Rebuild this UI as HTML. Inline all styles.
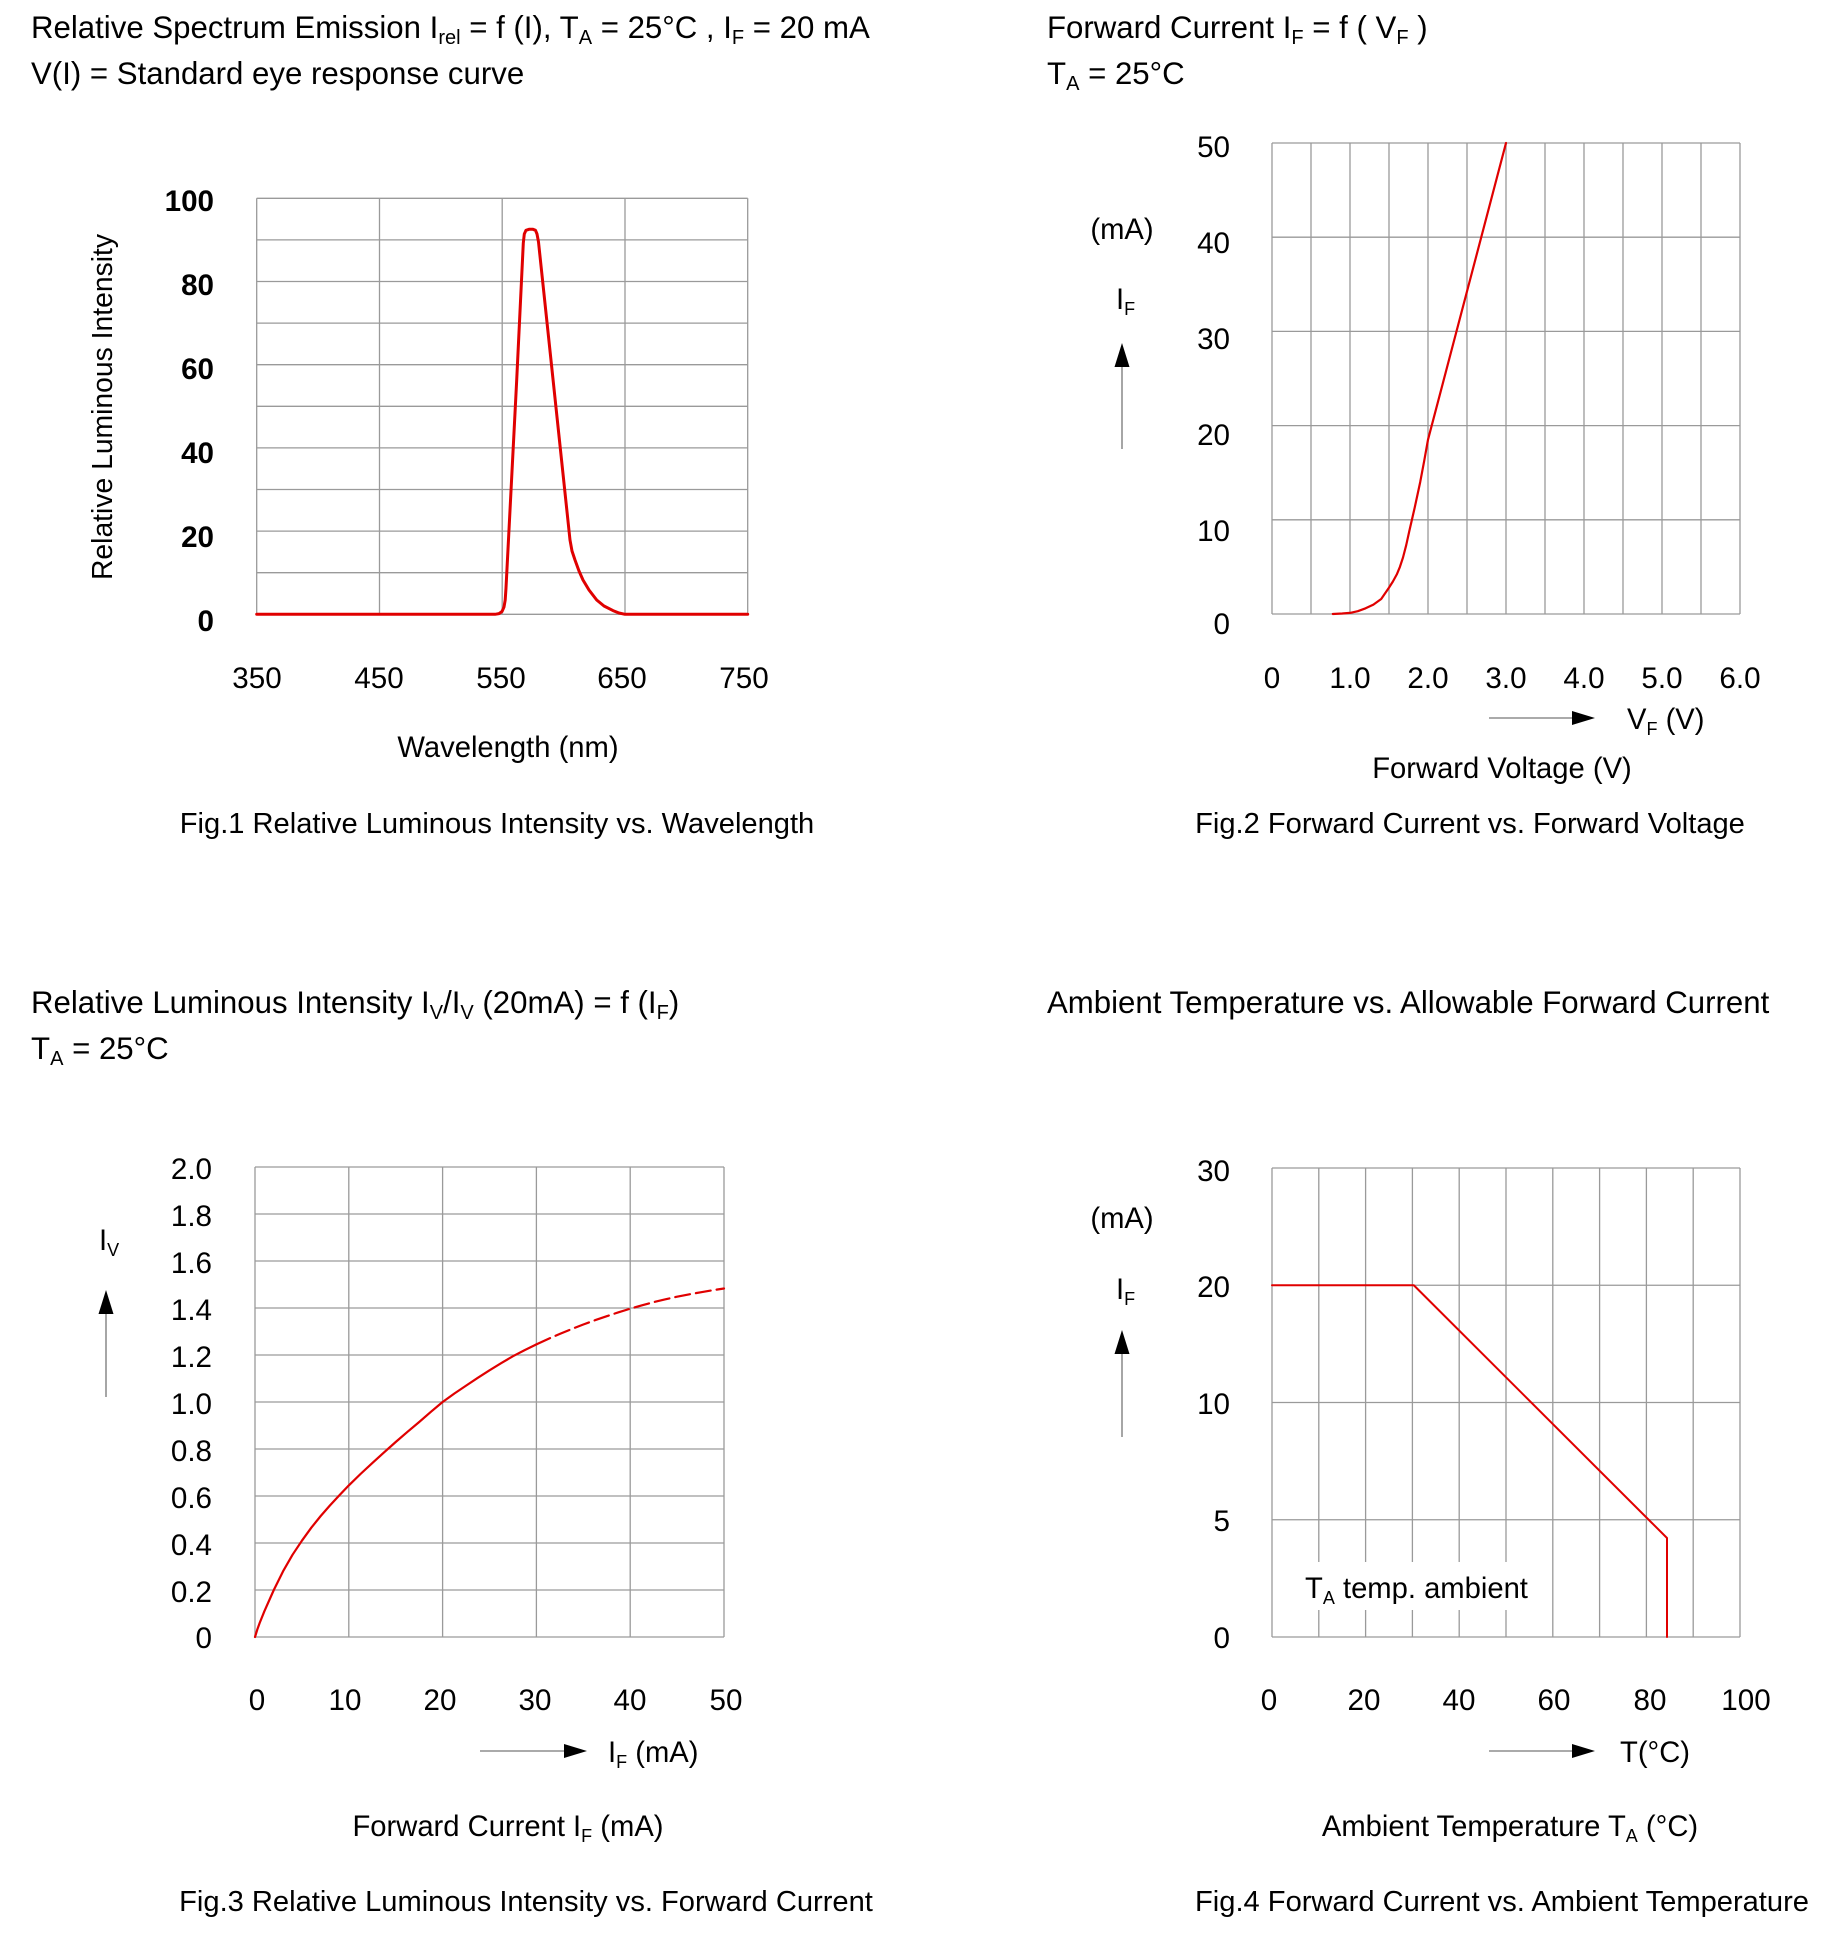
<!DOCTYPE html>
<html><head><meta charset="utf-8"><style>
html,body{margin:0;padding:0;background:#fff;}
svg{display:block;}
text{font-family:"Liberation Sans",Arial,sans-serif;fill:#000;}
.g{stroke:#9a9a9a;stroke-width:1.3;fill:none;}
.c{stroke:#e00000;fill:none;stroke-linejoin:round;stroke-linecap:round;}
.t{font-size:31.2px;}
.k{font-size:29.6px;}
.a{font-size:29.2px;}
.cap{font-size:29.1px;}
.ar{stroke:#777;stroke-width:1.3;}
</style></head><body>
<svg width="1845" height="1950" viewBox="0 0 1845 1950" xmlns="http://www.w3.org/2000/svg">
<rect width="1845" height="1950" fill="#fff"/>

<!-- ========== FIG 1 ========== -->
<text class="t" x="31" y="38">Relative Spectrum Emission I<tspan font-size="20" dy="6">rel</tspan><tspan dy="-6"> = f (I), T</tspan><tspan font-size="20" dy="6">A</tspan><tspan dy="-6"> = 25°C , I</tspan><tspan font-size="20" dy="6">F</tspan><tspan dy="-6"> = 20 mA</tspan></text>
<text class="t" x="31" y="84">V(I) = Standard eye response curve</text>

<path class="g" d="M256.7,198.3V614.3M379.5,198.3V614.3M502.2,198.3V614.3M625,198.3V614.3M747.7,198.3V614.3
M256.7,198.3H747.7M256.7,239.9H747.7M256.7,281.5H747.7M256.7,323.1H747.7M256.7,364.7H747.7M256.7,406.3H747.7M256.7,447.9H747.7M256.7,489.5H747.7M256.7,531.1H747.7M256.7,572.7H747.7M256.7,614.3H747.7"/>

<g class="k" text-anchor="end" font-weight="bold">
<text x="214" y="211">100</text>
<text x="214" y="295">80</text>
<text x="214" y="379">60</text>
<text x="214" y="463">40</text>
<text x="214" y="547">20</text>
<text x="214" y="631">0</text>
</g>
<g class="k" text-anchor="middle">
<text x="257" y="688">350</text>
<text x="379" y="688">450</text>
<text x="501" y="688">550</text>
<text x="622" y="688">650</text>
<text x="744" y="688">750</text>
</g>
<text class="a" x="508" y="757" text-anchor="middle">Wavelength (nm)</text>
<text transform="translate(112,407) rotate(-90)" text-anchor="middle" font-size="28.3">Relative Luminous Intensity</text>
<text class="cap" x="497" y="833" text-anchor="middle">Fig.1 Relative Luminous Intensity vs. Wavelength</text>

<polyline class="c" stroke-width="3" points="256.7,614.3 495,614.3 499,613.6 502,611.5 504,607 505.2,600 506,588 516.7,380 523.3,243 524.3,234 526,230.3 529,229.3 533,229.3 535.5,230.3 537,234 538.5,242 570,540 572,551 575,560 579,571 583,580 589,590 596.7,600 604,606 613,610.6 619,613 625,614.3 747.7,614.3"/>

<!-- ========== FIG 2 ========== -->
<text class="t" x="1047" y="38">Forward Current I<tspan font-size="20" dy="6">F</tspan><tspan dy="-6"> = f ( V</tspan><tspan font-size="20" dy="6">F</tspan><tspan dy="-6"> )</tspan></text>
<text class="t" x="1047" y="84">T<tspan font-size="20" dy="6">A</tspan><tspan dy="-6"> = 25°C</tspan></text>

<path class="g" d="M1272,143V614M1311,143V614M1350,143V614M1389,143V614M1428,143V614M1467,143V614M1506,143V614M1545,143V614M1584,143V614M1623,143V614M1662,143V614M1701,143V614M1740,143V614
M1272,143H1740M1272,237.2H1740M1272,331.4H1740M1272,425.6H1740M1272,519.8H1740M1272,614H1740"/>

<g class="k" text-anchor="end">
<text x="1230" y="157">50</text>
<text x="1230" y="253">40</text>
<text x="1230" y="349">30</text>
<text x="1230" y="445">20</text>
<text x="1230" y="541">10</text>
<text x="1230" y="634">0</text>
</g>
<g class="k" text-anchor="middle">
<text x="1272" y="688">0</text>
<text x="1350" y="688">1.0</text>
<text x="1428" y="688">2.0</text>
<text x="1506" y="688">3.0</text>
<text x="1584" y="688">4.0</text>
<text x="1662" y="688">5.0</text>
<text x="1740" y="688">6.0</text>
</g>
<text class="a" x="1122" y="239" text-anchor="middle">(mA)</text>
<text class="a" x="1116" y="309">I<tspan font-size="18" dy="6">F</tspan></text>
<line class="ar" x1="1122" y1="364" x2="1122" y2="449"/>
<polygon points="1122,343 1114.5,367 1129.5,367" fill="#000"/>

<line class="ar" x1="1489" y1="718" x2="1576" y2="718"/>
<polygon points="1595,718 1572,711 1572,725" fill="#000"/>
<text class="a" x="1627" y="729">V<tspan font-size="18" dy="6">F</tspan><tspan dy="-6"> (V)</tspan></text>
<text class="a" x="1502" y="778" text-anchor="middle">Forward Voltage (V)</text>
<text class="cap" x="1470" y="833" text-anchor="middle">Fig.2 Forward Current vs. Forward Voltage</text>

<polyline class="c" stroke-width="2.2" points="1332.8,614 1342.2,613.5 1350,612.9 1357.8,611.2 1365.6,608.3 1373.4,604.6 1381.2,599 1389,587.6 1392.9,581.5 1396.8,574.4 1399.9,566.9 1403,557.5 1406.2,545.2 1409.3,531.1 1414.7,507.6 1420.2,482.1 1424.1,461.4 1428,439.7 1467,291.4 1506,143"/>

<!-- ========== FIG 3 ========== -->
<text class="t" x="31" y="1013">Relative Luminous Intensity I<tspan font-size="20" dy="6">V</tspan><tspan dy="-6">/I</tspan><tspan font-size="20" dy="6">V</tspan><tspan dy="-6"> (20mA) = f (I</tspan><tspan font-size="20" dy="6">F</tspan><tspan dy="-6">)</tspan></text>
<text class="t" x="31" y="1059">T<tspan font-size="20" dy="6">A</tspan><tspan dy="-6"> = 25°C</tspan></text>

<path class="g" d="M255,1167V1637M348.8,1167V1637M442.6,1167V1637M536.4,1167V1637M630.2,1167V1637M724,1167V1637
M255,1167H724M255,1214H724M255,1261H724M255,1308H724M255,1355H724M255,1402H724M255,1449H724M255,1496H724M255,1543H724M255,1590H724M255,1637H724"/>

<g class="k" text-anchor="end">
<text x="212" y="1179">2.0</text>
<text x="212" y="1226">1.8</text>
<text x="212" y="1273">1.6</text>
<text x="212" y="1320">1.4</text>
<text x="212" y="1367">1.2</text>
<text x="212" y="1414">1.0</text>
<text x="212" y="1461">0.8</text>
<text x="212" y="1508">0.6</text>
<text x="212" y="1555">0.4</text>
<text x="212" y="1602">0.2</text>
<text x="212" y="1648">0</text>
</g>
<g class="k" text-anchor="middle">
<text x="257" y="1710">0</text>
<text x="345" y="1710">10</text>
<text x="440" y="1710">20</text>
<text x="535" y="1710">30</text>
<text x="630" y="1710">40</text>
<text x="726" y="1710">50</text>
</g>
<text class="a" x="99" y="1250">I<tspan font-size="18" dy="6">V</tspan></text>
<line class="ar" x1="106" y1="1310" x2="106" y2="1397"/>
<polygon points="106,1290 98.5,1314 113.5,1314" fill="#000"/>

<line class="ar" x1="480" y1="1751" x2="568" y2="1751"/>
<polygon points="587,1751 564,1744 564,1758" fill="#000"/>
<text class="a" x="608" y="1762">I<tspan font-size="18" dy="6">F</tspan><tspan dy="-6"> (mA)</tspan></text>
<text class="a" x="508" y="1836" text-anchor="middle">Forward Current I<tspan font-size="18" dy="6">F</tspan><tspan dy="-6"> (mA)</tspan></text>
<text class="cap" x="526" y="1911" text-anchor="middle">Fig.3 Relative Luminous Intensity vs. Forward Current</text>

<polyline class="c" stroke-width="2.2" points="255,1637 257.3,1629.5 259.7,1622.9 264.4,1611.2 273.8,1590 283.1,1571.2 292.5,1554.8 301.9,1540.7 311.3,1527.7 320.7,1516 330,1505.4 339.4,1495.3 348.8,1485.4 360.5,1474 372.3,1463.1 384,1452.4 395.7,1442 407.5,1431.8 419.2,1422 430.9,1411.8 442.6,1402 454.4,1393.5 466.1,1385.6 477.8,1377.8 489.5,1370.3 501.3,1363.1 513,1356.2 524.7,1350.1 536.4,1344.4"/>
<polyline class="c" stroke-width="2.2" stroke-dasharray="15,6" stroke-linecap="butt" points="536.4,1344.4 548.1,1339 559.9,1333.9 571.6,1329.1 583.3,1324.5 595,1320.2 606.8,1316.2 618.5,1312.3 630.2,1308.7 642,1305.3 653.7,1302.1 665.4,1299.3 677.1,1296.7 688.8,1294.4 700.6,1292.3 712.3,1290.3 724,1288.5"/>

<!-- ========== FIG 4 ========== -->
<text class="t" x="1047" y="1013">Ambient Temperature vs. Allowable Forward Current</text>

<path class="g" d="M1272,1168V1637M1318.8,1168V1637M1365.6,1168V1637M1412.4,1168V1637M1459.2,1168V1637M1506,1168V1637M1552.8,1168V1637M1599.6,1168V1637M1646.4,1168V1637M1693.2,1168V1637M1740,1168V1637
M1272,1168H1740M1272,1285.25H1740M1272,1402.5H1740M1272,1519.75H1740M1272,1637H1740"/>
<rect x="1300" y="1562" width="232" height="48" fill="#fff"/>
<text x="1305" y="1598" font-size="29.2">T<tspan font-size="18" dy="6">A</tspan><tspan dy="-6"> temp. ambient</tspan></text>

<g class="k" text-anchor="end">
<text x="1230" y="1181">30</text>
<text x="1230" y="1297">20</text>
<text x="1230" y="1414">10</text>
<text x="1230" y="1531">5</text>
<text x="1230" y="1648">0</text>
</g>
<g class="k" text-anchor="middle">
<text x="1269" y="1710">0</text>
<text x="1364" y="1710">20</text>
<text x="1459" y="1710">40</text>
<text x="1554" y="1710">60</text>
<text x="1650" y="1710">80</text>
<text x="1746" y="1710">100</text>
</g>
<text class="a" x="1122" y="1228" text-anchor="middle">(mA)</text>
<text class="a" x="1116" y="1299">I<tspan font-size="18" dy="6">F</tspan></text>
<line class="ar" x1="1122" y1="1350" x2="1122" y2="1437"/>
<polygon points="1122,1330 1114.5,1354 1129.5,1354" fill="#000"/>

<line class="ar" x1="1489" y1="1751" x2="1576" y2="1751"/>
<polygon points="1595,1751 1572,1744 1572,1758" fill="#000"/>
<text class="a" x="1620" y="1762">T(°C)</text>
<text class="a" x="1510" y="1836" text-anchor="middle">Ambient Temperature T<tspan font-size="18" dy="6">A</tspan><tspan dy="-6"> (°C)</tspan></text>
<text class="cap" x="1502" y="1911" text-anchor="middle">Fig.4 Forward Current vs. Ambient Temperature</text>

<polyline class="c" stroke-width="2" stroke-linecap="butt" points="1272,1285.25 1413.8,1285.25 1667,1538 1667,1637"/>
</svg>
</body></html>
